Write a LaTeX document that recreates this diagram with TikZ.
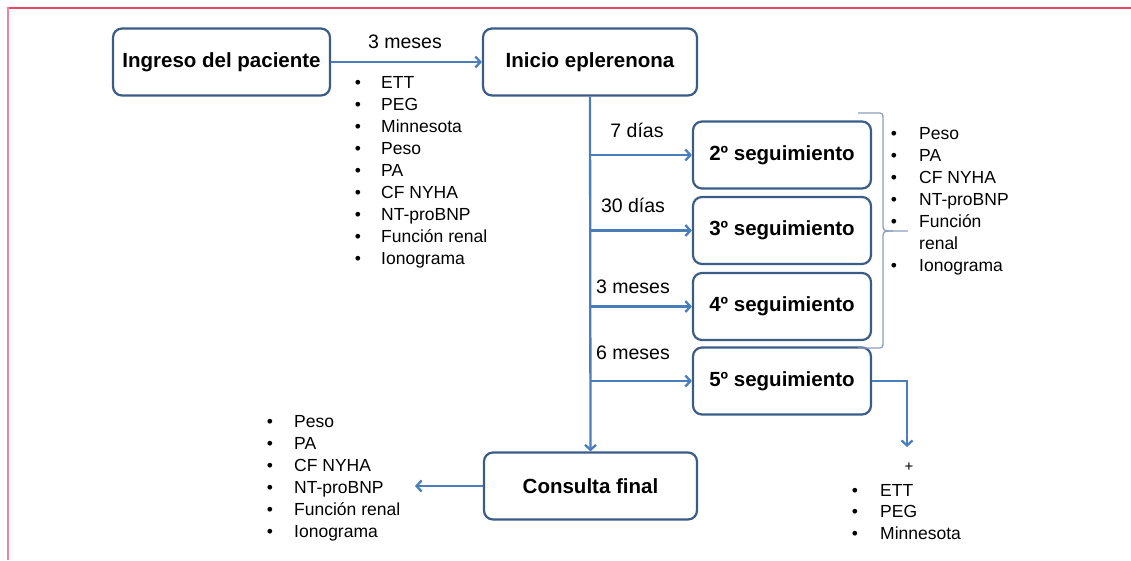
\documentclass[tikz,border=0pt]{standalone}
\usepackage{fontspec}
\setmainfont{Liberation Sans}
\usetikzlibrary{arrows.meta,calc}
\definecolor{boxc}{RGB}{60,92,136}
\definecolor{arrc}{RGB}{74,126,187}
\definecolor{bracec}{RGB}{140,160,190}
\definecolor{frametop}{RGB}{232,72,96}
\definecolor{frameleft}{RGB}{240,130,150}
\begin{document}
\begin{tikzpicture}[x=1pt,y=-1pt,
  box/.style={draw=boxc, line width=2.2pt, rounded corners=9pt, fill=white, font=\fontsize{20.5}{24}\selectfont\bfseries, inner sep=0pt, minimum height=67pt},
  conn/.style={draw=arrc, line width=2.3pt},
  arr/.style={conn, -{Straight Barb[length=5pt,width=11pt]}},
  lbl/.style={font=\fontsize{19.5}{22}\selectfont, inner sep=0pt},
  item/.style={font=\fontsize{17.5}{22}\selectfont, inner sep=0pt, anchor=base west},
  bul/.style={font=\fontsize{17.5}{22}\selectfont, inner sep=0pt, anchor=base},
]
\useasboundingbox (0,0) rectangle (1131,560);
\draw[frametop, line width=2pt] (7,8) -- (1131,8);
\draw[frameleft, line width=2.5pt] (8,7) -- (8,560);

% boxes
\node[box, minimum width=217pt] (ing) at (221.5,62) {Ingreso del paciente};
\node[box, minimum width=214pt] (ini) at (590,62) {Inicio eplerenona};
\node[box, minimum width=178pt] (s2) at (782,155) {2º seguimiento};
\node[box, minimum width=178pt] (s3) at (782,230.5) {3º seguimiento};
\node[box, minimum width=178pt] (s4) at (782,306.5) {4º seguimiento};
\node[box, minimum width=178pt] (s5) at (782,381) {5º seguimiento};
\node[box, minimum width=213pt] (cf) at (590.5,486) {Consulta final};

% connectors
\draw[arr] (ing.east) -- (ini.west);
\node[lbl] (l3top) at (405,42) {3 meses};
\draw[arr] (ini.south) -- (cf.north);
\draw[arr] (ini.south |- s2.west) -- (s2.west);
\draw[arr] (ini.south |- s3.west) -- (s3.west);
\draw[arr] (ini.south |- s4.west) -- (s4.west);
\draw[arr] (ini.south |- s5.west) -- (s5.west);
\node[lbl] (l7) at (637,130) {7 días};
\node[lbl] (l30) at (633,205) {30 días};
\node[lbl] (l3m) at (633,287) {3 meses};
\node[lbl] (l6m) at (633,353) {6 meses};

\coordinate (e5) at (907,447);
\draw[arr] (s5.east) -| (e5);
\coordinate (lt) at (415,486);
\draw[arr] (cf.west) -- (lt);

% brace
\draw[bracec, line width=1.3pt] (858,113) -- (876,113) .. controls (883,113) .. (883,120) -- (883,223) .. controls (883,231) .. (893,231) -- (908,231);
\draw[bracec, line width=1.3pt] (893,231) .. controls (883,231) .. (883,239) -- (883,341) .. controls (883,348) .. (876,348) -- (858,348);

% top list
\foreach \t [count=\i] in {ETT,PEG,Minnesota,Peso,PA,CF NYHA,NT-proBNP,Función renal,Ionograma} {
  \node[item] (a\i) at (381,{88+22*(\i-1)}) {\t};
  \node[bul] (ab\i) at (358,{88+22*(\i-1)}) {•};
}
% right list
\foreach \t/\b [count=\i] in {Peso/1,PA/1,CF NYHA/1,NT-proBNP/1,Función/1,renal/0,Ionograma/1} {
  \node[item] (r\i) at (919,{139+22.1*(\i-1)}) {\t};
  \ifnum\b=1 \node[bul] (rb\i) at (894,{139+22.1*(\i-1)}) {•};\fi
}
% bottom-left list
\foreach \t [count=\i] in {Peso,PA,CF NYHA,NT-proBNP,Función renal,Ionograma} {
  \node[item] (c\i) at (294,{427+22*(\i-1)}) {\t};
  \node[bul] (cb\i) at (270,{427+22*(\i-1)}) {•};
}
% bottom-right list
\node[font=\fontsize{15}{17}\selectfont, inner sep=0pt] (plus) at (909,467) {+};
\foreach \t [count=\i] in {ETT,PEG,Minnesota} {
  \node[item] (d\i) at (880,{496+21.5*(\i-1)}) {\t};
  \node[bul] (db\i) at (855,{496+21.5*(\i-1)}) {•};
}
\end{tikzpicture}
\end{document}
